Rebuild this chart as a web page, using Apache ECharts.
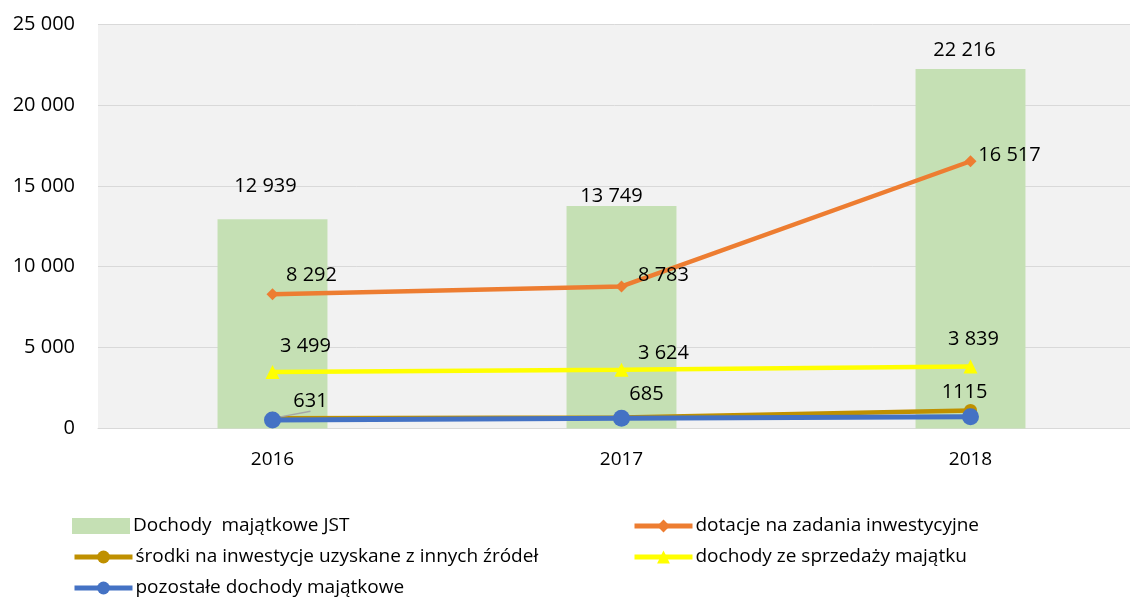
<!DOCTYPE html>
<html>
<head>
<meta charset="utf-8">
<script src="https://cdn.jsdelivr.net/npm/echarts@6/dist/echarts.min.js"></script>
<style>
  html, body { margin: 0; padding: 0; background: #ffffff; }
  #chart { width: 1130px; height: 599px; }
</style>
</head>
<body>
<div id="chart"></div>
<script>
// Dochody majątkowe JST 2016–2018 (mln zł)
const years = ['2016', '2017', '2018'];
const dochodyJST = [12939, 13749, 22216];
const dotacje = [8292, 8783, 16517];
const srodkiInne = [631, 685, 1115];
const sprzedaz = [3499, 3624, 3839];
const pozostale = [525, 630, 730];
const yTicks = [0, 5000, 10000, 15000, 20000, 25000];

const FONT = '"Open Sans", "Liberation Sans", sans-serif';
const fmt = v => String(v).replace(/\B(?=(\d{3})+(?!\d))/g, ' ');

const names = {
  bar: 'Dochody  majątkowe JST',
  dot: 'dotacje na zadania inwestycyjne',
  sr: 'środki na inwestycje uzyskane z innych źródeł',
  sp: 'dochody ze sprzedaży majątku',
  poz: 'pozostałe dochody majątkowe'
};

// label placement per point (relative to each mark)
const barOffsets = [[-7, -18], [-10, 5], [-6, -4]];
const dotOffsets = [[39, -19], [42, -11], [39, -6]];
const spOffsets = [[33, -26], [42, -17], [3, -27]];
const srOffsets = [[38, -17], [25, -23], [-6, -18]];
const srLeader = [true, false, false];

const labelBase = { show: true, color: '#000', fontFamily: FONT, fontSize: 20 };

function pointData(values, offsets, leaders) {
  return values.map((v, i) => {
    const d = { value: v, label: { offset: offsets[i] } };
    if (leaders) d.labelLine = { show: leaders[i] };
    return d;
  });
}

// one legend row per entry, two columns
function legendRow(name, left, top, icon) {
  const l = {
    orient: 'horizontal', left: left, top: top, padding: 0,
    itemWidth: 58, itemHeight: 16, itemGap: 0,
    textStyle: { color: '#000', fontFamily: FONT, fontSize: 19, lineHeight: 22, padding: [0, 0, 0, -2] },
    lineStyle: { width: 5 },
    data: [name]
  };
  if (icon) l.data = [{ name: name, icon: icon }];
  return l;
}

const chart = echarts.init(document.getElementById('chart'), null, { renderer: 'canvas' });

chart.setOption({
  animation: false,
  backgroundColor: '#ffffff',
  grid: {
    left: 98, top: 24, width: 1047, height: 404.5,
    outerBoundsMode: 'none',
    show: true, backgroundColor: '#F2F2F2', borderWidth: 0, containLabel: false
  },
  xAxis: {
    type: 'category',
    data: years,
    axisTick: { show: false },
    axisLine: { show: true, lineStyle: { color: '#D9D9D9', width: 1 } },
    axisLabel: { color: '#000', fontFamily: FONT, fontSize: 19, margin: 22 }
  },
  yAxis: {
    type: 'value',
    min: yTicks[0],
    max: yTicks[yTicks.length - 1],
    interval: yTicks[1] - yTicks[0],
    axisLine: { show: false },
    axisTick: { show: false },
    splitLine: { lineStyle: { color: '#D9D9D9', width: 1 } },
    axisLabel: { color: '#000', fontFamily: FONT, fontSize: 20, margin: 23, formatter: fmt }
  },
  legend: [
    legendRow(names.bar, 72, 515, 'rect'),
    legendRow(names.sr, 72, 546),
    legendRow(names.poz, 72, 577),
    legendRow(names.dot, 632, 515),
    legendRow(names.sp, 632, 546)
  ],
  series: [
    {
      name: names.bar,
      type: 'bar',
      barWidth: '31.5%',
      itemStyle: { color: '#C5E0B4' },
      label: Object.assign({}, labelBase, { position: 'top', formatter: p => fmt(p.value) }),
      data: pointData(dochodyJST, barOffsets),
      z: 1
    },
    {
      name: names.dot,
      type: 'line',
      symbol: 'diamond', symbolSize: 12,
      lineStyle: { color: '#ED7D31', width: 4.5 },
      itemStyle: { color: '#ED7D31' },
      label: Object.assign({}, labelBase, { position: 'inside', formatter: p => fmt(p.value) }),
      data: pointData(dotacje, dotOffsets),
      z: 3
    },
    {
      name: names.sr,
      type: 'line',
      symbol: 'circle', symbolSize: 13,
      lineStyle: { color: '#BF9000', width: 4.5 },
      itemStyle: { color: '#BF9000' },
      label: Object.assign({}, labelBase, { position: 'inside', formatter: p => String(p.value) }),
      labelLine: { show: false, lineStyle: { color: '#A6A6A6', width: 1.5 } },
      data: pointData(srodkiInne, srOffsets, srLeader),
      z: 3
    },
    {
      name: names.sp,
      type: 'line',
      symbol: 'triangle', symbolSize: 14,
      lineStyle: { color: '#FFFF00', width: 4.5 },
      itemStyle: { color: '#FFFF00' },
      label: Object.assign({}, labelBase, { position: 'inside', formatter: p => fmt(p.value) }),
      data: pointData(sprzedaz, spOffsets),
      z: 4
    },
    {
      name: names.poz,
      type: 'line',
      symbol: 'circle', symbolSize: 17,
      lineStyle: { color: '#4472C4', width: 5 },
      itemStyle: { color: '#4472C4' },
      data: pozostale,
      z: 5
    }
  ]
});
</script>
</body>
</html>
